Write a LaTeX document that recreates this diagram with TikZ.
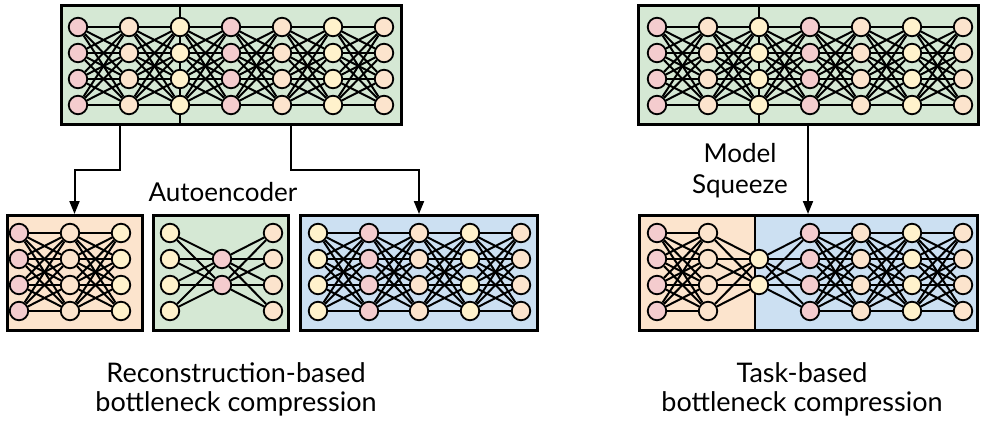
\documentclass[tikz,border=0pt]{standalone}
\usepackage{fontspec}
\setmainfont{Lato}
\usetikzlibrary{arrows.meta,calc}
\definecolor{pnk}{HTML}{F4CCCE}
\definecolor{pch}{HTML}{FCE4CD}
\definecolor{ylw}{HTML}{FFF2CC}
\definecolor{grn}{HTML}{D5E8D4}
\definecolor{org}{HTML}{FCE4CD}
\definecolor{blu}{HTML}{CCE0F2}
\pgfdeclarelayer{front}
\pgfsetlayers{main,front}
\begin{document}
\begin{tikzpicture}[x=1pt,y=-1pt,
  neuron/.style={circle,draw,line width=1.8pt,minimum size=18.5pt,inner sep=0pt},
  panel/.style={draw,line width=3pt,inner sep=0pt},
  cut/.style={line width=2pt},
  link/.style={line width=2pt},
  flow/.style={line width=2pt,-{Triangle[length=13pt,width=10pt]}},
  label/.style={font=\fontsize{26}{31}\selectfont,align=center,inner sep=0pt},
  caption/.style={font=\fontsize{27}{29}\selectfont,align=center,inner sep=0pt}]
\useasboundingbox (0,0) rectangle (981,425);

\node[panel,fill=grn,minimum width=340pt,minimum height=118pt] (Abox) at (231,65) {};
\node[panel,fill=grn,minimum width=340pt,minimum height=118pt] (Fbox) at (808,65) {};
\node[panel,fill=org,minimum width=135pt,minimum height=115pt] (Bbox) at (74.5,273) {};
\node[panel,fill=grn,minimum width=135pt,minimum height=115pt] (Cbox) at (220.5,273) {};
\node[panel,fill=blu,minimum width=237pt,minimum height=115pt] (Ebox) at (419,273) {};
\fill[blu] (639,215.5) rectangle (977,330.5);
\fill[org] (639,215.5) rectangle (755,330.5);
\node[panel,minimum width=338pt,minimum height=115pt] (Dbox) at (808,273) {};

\begin{pgfonlayer}{front}
\foreach \c/\x/\k in {1/78/pnk,2/129/pch,3/180/ylw,4/231/pnk,5/282/pch,6/333/ylw,7/384/pch}{
  \foreach \r in {1,...,4}{
    \node[neuron,fill=\k] (A\c\r) at (\x,1+26*\r) {};
    \node[neuron,fill=\k] (F\c\r) at (\x+579,1+26*\r) {};
  }
}
\foreach \c/\x/\k in {1/19/pnk,2/70/pch,3/121/ylw}
  \foreach \r in {1,...,4}
    \node[neuron,fill=\k] (B\c\r) at (\x,207+26*\r) {};
\foreach \r in {1,...,4}{
  \node[neuron,fill=ylw] (C1\r) at (170,207+26*\r) {};
  \node[neuron,fill=pch] (C3\r) at (273,207+26*\r) {};
}
\foreach \r in {2,3}{
  \node[neuron,fill=pnk] (C2\r) at (222,207+26*\r) {};
  \node[neuron,fill=ylw] (D3\r) at (759,207+26*\r) {};
}
\foreach \c/\x/\k in {1/318/ylw,2/369/pnk,3/419/pch,4/470/ylw,5/521/pch}
  \foreach \r in {1,...,4}
    \node[neuron,fill=\k] (E\c\r) at (\x,207+26*\r) {};
\foreach \c/\x/\k in {1/657/pnk,2/708/pch,4/810/pnk,5/861/pch,6/912/ylw,7/963/pch}
  \foreach \r in {1,...,4}
    \node[neuron,fill=\k] (D\c\r) at (\x,207+26*\r) {};
\end{pgfonlayer}

\draw[cut] (A31 |- Abox.north) -- (A31 |- Abox.south);
\draw[cut] (F31 |- Fbox.north) -- (F31 |- Fbox.south);
\draw[cut] (755,0 |- Dbox.north) -- (755,0 |- Dbox.south);

\foreach \p/\q in {A1/A2,A2/A3,A3/A4,A4/A5,A5/A6,A6/A7,F1/F2,F2/F3,F3/F4,F4/F5,F5/F6,F6/F7,
    B1/B2,B2/B3,E1/E2,E2/E3,E3/E4,E4/E5,D1/D2,D4/D5,D5/D6,D6/D7}
  \foreach \i in {1,...,4}
    \foreach \j in {1,...,4}
      \draw[link] (\p\i) -- (\q\j);
\foreach \i in {1,...,4}
  \foreach \j in {2,3}{
    \draw[link] (D2\i) -- (D3\j) -- (D4\i);
    \draw[link] (C1\i) -- (C2\j) -- (C3\i);
  }

\draw[flow] ($(Abox.south west)!.5!(A34 |- Abox.south)$) -- ++(0,44) -| (Bbox.north);
\draw[flow] ($(A34 |- Abox.south)!.5!(Abox.south east)$) -- ++(0,44) -| (Ebox.north);
\draw[flow] (Fbox.south) -- (Dbox.north);

\node[label,anchor=base] (ae) at (223,201) {Autoencoder};
\node[label] (ms) at (740,171) {Model\\Squeeze};
\node[caption] (rec) at (236,389) {Reconstruction-based\\bottleneck compression};
\node[caption] (task) at (802,389) {Task-based\\bottleneck compression};
\end{tikzpicture}
\end{document}
